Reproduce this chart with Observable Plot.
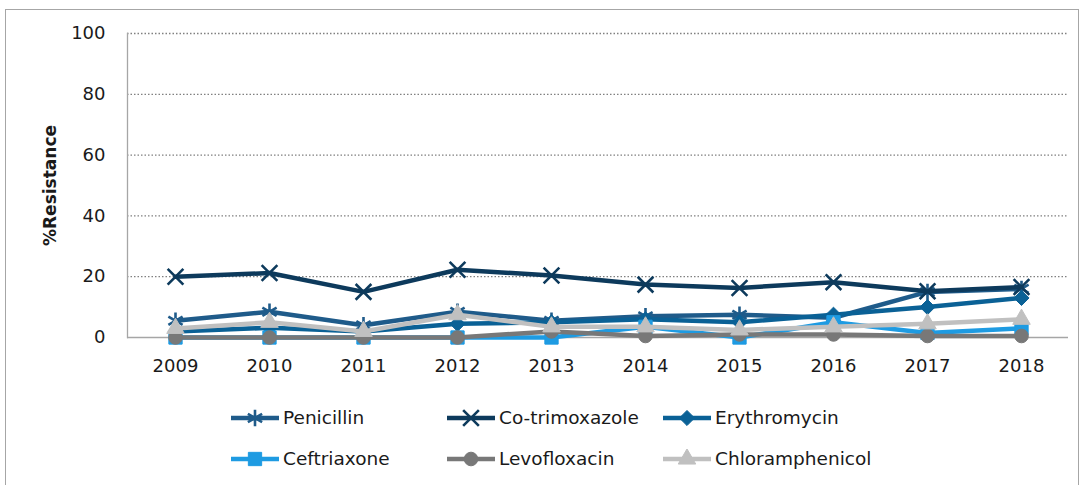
<!DOCTYPE html>
<html><head><meta charset="utf-8">
<script src="https://cdn.jsdelivr.net/npm/d3@7"></script>
<script src="https://cdn.jsdelivr.net/npm/@observablehq/plot@0.6"></script>
<style>
body{margin:0;background:#fff;font-family:"DejaVu Sans",sans-serif;color:#1a1a1a;}
#box{position:absolute;left:5px;top:9px;width:1074px;height:500px;border:1px solid #a6a6a6;box-sizing:border-box;background:#fff;}
#chart svg{display:block;}
#legend{margin-left:225px;margin-top:12px;display:grid;grid-template-columns:216px 216px 216px;}
.item{display:flex;align-items:center;height:41px;font-size:18.5px;white-space:nowrap;}
.item svg{flex:none;margin-right:4px;}
</style>
</head><body>
<div id="box"><div id="chart"></div><div id="legend"></div></div>
<script>
// ---- data ----
const years = ["2009","2010","2011","2012","2013","2014","2015","2016","2017","2018"];
const seriesNames = ["Penicillin","Co-trimoxazole","Erythromycin","Ceftriaxone","Levofloxacin","Chloramphenicol"];
const penicillin     = [5.5, 8.5, 4, 8.5, 5.5, 7, 7.5, 6.5, 15, 16];
const cotrimoxazole  = [20, 21.2, 15, 22.3, 20.4, 17.4, 16.3, 18.2, 15.2, 16.6];
const erythromycin   = [2, 3.2, 2, 4.5, 5, 6, 5, 7.5, 10, 13];
const ceftriaxone    = [0, 0, 0, 0, 0, 3.5, 0, 5, 1.5, 3];
const levofloxacin   = [0, 0, 0, 0, 2, 0.5, 1, 1, 0.5, 0.5];
const chloramphenicol= [3, 5, 2, 7.5, 3.5, 3.5, 2.5, 3.5, 4.5, 6];
const yTicks = [0, 20, 40, 60, 80, 100];
const seriesColors = ["#1F5B8A","#0D3A5C","#0A6196","#1E9BE2","#787878","#C0C0C0"];

const seriesValues = [penicillin, cotrimoxazole, erythromycin, ceftriaxone, levofloxacin, chloramphenicol];
const rows = seriesNames.flatMap((s, i) => years.map((y, j) => ({series: s, year: y, value: seriesValues[i][j]})));

// marker styles
const markerStyle = {
  "Penicillin":      {symbol: "asterisk", r: 7.8, filled: false},
  "Co-trimoxazole":  {symbol: "times", r: 7.2, filled: false},
  "Erythromycin":    {symbol: "diamond2", r: 6.8, filled: true},
  "Ceftriaxone":     {symbol: "square", r: 7.5, filled: true},
  "Levofloxacin":    {symbol: "circle", r: 6.8, filled: true},
  "Chloramphenicol": {symbol: "triangle", r: 6.5, filled: true}
};

const seriesMarks = seriesNames.flatMap((s, i) => {
  const d = rows.filter(r => r.series === s);
  const c = seriesColors[i];
  const m = markerStyle[s];
  return [
    Plot.line(d, {x: "year", y: "value", stroke: c, strokeWidth: 4.5, strokeLinejoin: "round"}),
    Plot.dot(d, {x: "year", y: "value", symbol: () => m.symbol, r: m.r,
      fill: m.filled ? c : "none", stroke: c, strokeWidth: m.filled ? 1 : 2.6})
  ];
});

const chart = Plot.plot({
  width: 1072,
  height: 375,
  marginLeft: 121,
  marginRight: 10,
  marginTop: 23,
  marginBottom: 48,
  style: {fontFamily: "DejaVu Sans, sans-serif", fontSize: "18px", color: "#1a1a1a", background: "#fff"},
  x: {type: "point", domain: years, padding: 0.5},
  y: {domain: [0, 100]},
  symbol: {type: "identity"},
  marks: [
    Plot.gridY(yTicks.filter(t => t > 0), {stroke: "#808080", strokeOpacity: 1, strokeDasharray: "1.5,2", strokeWidth: 1.3}),
    Plot.frame({anchor: "left", stroke: "#a6a6a6", strokeWidth: 1.3}),
    Plot.ruleY([0], {stroke: "#a6a6a6", strokeWidth: 1.3}),
    ...seriesMarks,
    Plot.axisY(yTicks, {tickSize: 0, tickPadding: 22, label: null, fontSize: 18}),
    Plot.axisX({tickSize: 0, tickPadding: 22, label: null, fontSize: 18}),
    Plot.text(["%Resistance"], {frameAnchor: "left", textAnchor: "middle", rotate: -90, dx: -77, fontWeight: "bold", fontSize: 17})
  ]
});
document.getElementById("chart").appendChild(chart);

// legend
const legend = d3.select("#legend");
const symMap = {asterisk: d3.symbolAsterisk, times: d3.symbolTimes, diamond2: d3.symbolDiamond2,
  square: d3.symbolSquare, circle: d3.symbolCircle, triangle: d3.symbolTriangle};
seriesNames.forEach((s, i) => {
  const c = seriesColors[i];
  const m = markerStyle[s];
  const it = legend.append("div").attr("class", "item");
  const sv = it.append("svg").attr("width", 48).attr("height", 20);
  sv.append("line").attr("x1", 0).attr("x2", 48).attr("y1", 10).attr("y2", 10)
    .attr("stroke", c).attr("stroke-width", 4.5);
  sv.append("path").attr("transform", "translate(24,10)")
    .attr("d", d3.symbol(symMap[m.symbol], Math.PI * m.r * m.r)())
    .attr("fill", m.filled ? c : "none").attr("stroke", c).attr("stroke-width", m.filled ? 1 : 2.6);
  it.append("span").text(s);
});
</script>
</body></html>
